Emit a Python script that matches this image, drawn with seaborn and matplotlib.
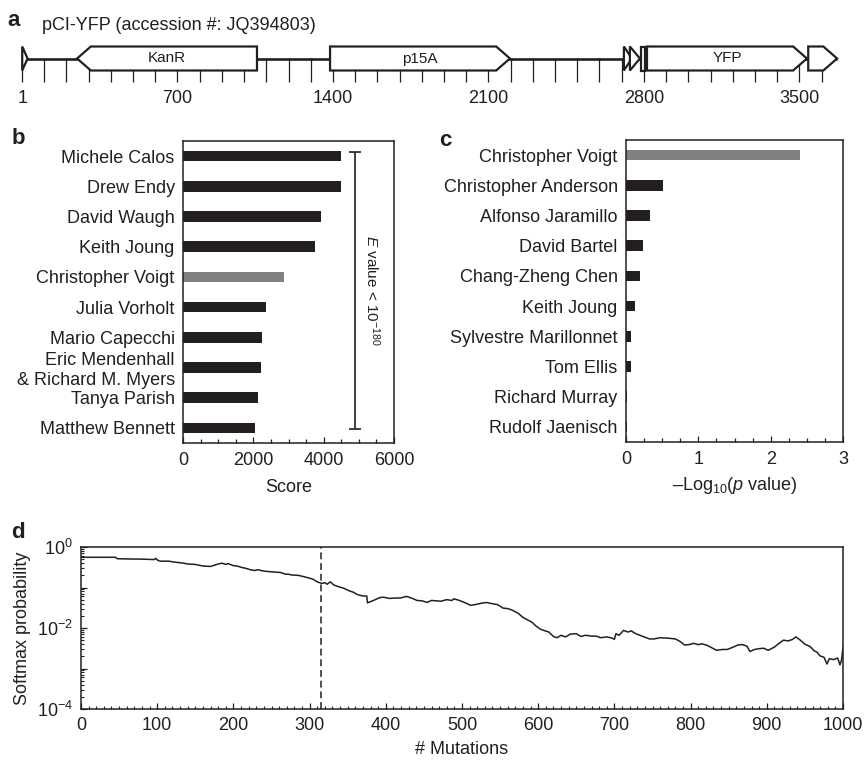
import numpy as np
import pandas as pd
import matplotlib
matplotlib.use('Agg')
import matplotlib.pyplot as plt
import seaborn as sns
from matplotlib.patches import Polygon
from matplotlib.ticker import FixedLocator, MultipleLocator, LogLocator, NullFormatter

# ---- data -------------------------------------------------------------
plasmid_title = 'pCI-YFP (accession #: JQ394803)'
plasmid_length = 3670
feature_names = ['', 'KanR', 'p15A', '', '', '', 'YFP', '']
feature_starts = [1, 248, 1387, 2710, 2737, 2787, 2814, 3540]
feature_ends = [25, 1058, 2197, 2746, 2782, 2805, 3534, 3670]
feature_strands = [1, -1, 1, 1, 1, 0, 1, 1]
map_labels = [1, 700, 1400, 2100, 2800, 3500]
map_minor = list(range(100, 3700, 100))

score_names = ['Michele Calos', 'Drew Endy', 'David Waugh', 'Keith Joung',
               'Christopher Voigt', 'Julia Vorholt', 'Mario Capecchi',
               'Eric Mendenhall\n& Richard M. Myers', 'Tanya Parish',
               'Matthew Bennett']
scores = [4490, 4490, 3920, 3750, 2870, 2360, 2250, 2220, 2130, 2050]

pval_names = ['Christopher Voigt', 'Christopher Anderson', 'Alfonso Jaramillo',
              'David Bartel', 'Chang-Zheng Chen', 'Keith Joung',
              'Sylvestre Marillonnet', 'Tom Ellis', 'Richard Murray',
              'Rudolf Jaenisch']
neg_log_p = [2.41, 0.51, 0.33, 0.23, 0.19, 0.125, 0.07, 0.07, 0.01, 0.01]

highlight = 'Christopher Voigt'

mutations = [0, 45, 48, 60, 80, 96, 98, 100, 104, 115, 126, 135, 140, 150, 160,
             170, 175, 180, 185, 190, 193, 200, 205, 210, 217, 222, 228, 232,
             236, 242, 248, 255, 262, 268, 272, 276, 285, 292, 300, 305, 310,
             316, 320, 323, 327, 332, 338, 345, 353, 358, 362, 366, 370, 375,
             376, 380, 385, 392, 397, 405, 412, 419, 427, 435, 441, 448, 454,
             460, 467, 472, 480, 487, 489, 495, 502, 507, 511, 518, 525, 532,
             537, 546, 550, 554, 560, 566, 574, 580, 586, 592, 597, 603, 609,
             614, 620, 625, 630, 636, 642, 650, 656, 662, 670, 676, 682, 690,
             697, 700, 702, 706, 712, 718, 722, 728, 735, 742, 746, 752, 760,
             770, 780, 786, 792, 798, 804, 810, 815, 822, 828, 834, 842, 848,
             855, 862, 868, 874, 878, 884, 890, 896, 902, 910, 916, 922, 928,
             934, 938, 944, 950, 957, 962, 966, 970, 975, 979, 982, 988, 993,
             996, 998, 1000]
log10_softmax = [-0.254, -0.254, -0.29, -0.295, -0.30, -0.31, -0.28, -0.32,
                 -0.35, -0.35, -0.38, -0.40, -0.42, -0.43, -0.47, -0.48, -0.45,
                 -0.42, -0.40, -0.43, -0.41, -0.46, -0.47, -0.50, -0.53, -0.56,
                 -0.58, -0.56, -0.58, -0.60, -0.61, -0.62, -0.63, -0.67, -0.67,
                 -0.69, -0.70, -0.73, -0.77, -0.80, -0.86, -0.90, -0.88, -0.92,
                 -0.86, -0.94, -0.98, -1.02, -1.09, -1.12, -1.17, -1.19, -1.21,
                 -1.21, -1.38, -1.35, -1.31, -1.25, -1.24, -1.27, -1.26, -1.26,
                 -1.22, -1.27, -1.32, -1.33, -1.37, -1.32, -1.33, -1.34, -1.30,
                 -1.32, -1.28, -1.31, -1.36, -1.40, -1.44, -1.42, -1.39, -1.37,
                 -1.39, -1.42, -1.46, -1.51, -1.52, -1.56, -1.64, -1.74, -1.80,
                 -1.86, -1.95, -2.03, -2.07, -2.10, -2.21, -2.24, -2.18, -2.22,
                 -2.15, -2.14, -2.21, -2.18, -2.20, -2.20, -2.24, -2.22, -2.25,
                 -2.28, -2.14, -2.18, -2.06, -2.10, -2.07, -2.14, -2.19, -2.24,
                 -2.27, -2.27, -2.24, -2.25, -2.27, -2.33, -2.42, -2.41, -2.38,
                 -2.41, -2.39, -2.43, -2.49, -2.55, -2.53, -2.53, -2.48, -2.42,
                 -2.41, -2.45, -2.58, -2.53, -2.51, -2.50, -2.55, -2.47, -2.38,
                 -2.30, -2.32, -2.28, -2.22, -2.30, -2.40, -2.46, -2.56, -2.60,
                 -2.69, -2.72, -2.89, -2.76, -2.78, -2.74, -2.91, -2.80, -2.48]
selected_mutation = 315

# ---- style ------------------------------------------------------------
INK = '#231f20'
GRAY = '#808080'
W, H = 864, 760

sns.set_theme(style='ticks')
plt.rcParams['font.family'] = ['Liberation Sans', 'DejaVu Sans']
plt.rcParams.update({
    'mathtext.fontset': 'custom',
    'mathtext.rm': 'Liberation Sans',
    'mathtext.it': 'Liberation Sans:italic',
    'mathtext.bf': 'Liberation Sans:bold',
    'text.color': INK, 'axes.labelcolor': INK, 'axes.edgecolor': INK,
    'xtick.color': INK, 'ytick.color': INK, 'axes.linewidth': 1.1,
    'font.size': 13,
})

fig = plt.figure(figsize=(W / 100, H / 100), dpi=100)


def px_axes(left, top, right, bottom):
    return fig.add_axes([left / W, 1 - bottom / H, (right - left) / W, (bottom - top) / H])


def panel_letter(x, y, s):
    fig.text(x / W, 1 - y / H, s, fontsize=16, fontweight='bold', ha='center', va='center')


# ---- a: plasmid map ---------------------------------------------------
ax_a = px_axes(0, 0, 864, 82)
px_per_bp = 0.2221
ax_a.set_xlim(-22 / px_per_bp, 842 / px_per_bp)
ax_a.set_ylim(82, 0)
for s in ax_a.spines.values():
    s.set_visible(False)
ax_a.set_axisbelow(True)
ax_a.set_yticks([])
ax_a.xaxis.set_major_locator(FixedLocator(map_labels))
ax_a.xaxis.set_minor_locator(FixedLocator(map_minor))
ax_a.set_xticklabels([str(v) for v in map_labels])
ax_a.tick_params(axis='x', which='both', direction='in', length=17.5, width=0.9,
                 labelsize=13, pad=6)
ax_a.set_facecolor('none')

mid, half = 58.5, 12
ax_a.plot([1, plasmid_length], [mid, mid], color=INK, lw=1.9, zorder=2,
          solid_capstyle='butt')
head = 62
for name, s, e, strand in zip(feature_names, feature_starts, feature_ends, feature_strands):
    h = min(head, e - s)
    top, bot = mid - half, mid + half
    if strand > 0:
        verts = [(s, top), (e - h, top), (e, mid), (e - h, bot), (s, bot)]
    elif strand < 0:
        verts = [(e, top), (s + h, top), (s, mid), (s + h, bot), (e, bot)]
    else:
        verts = [(s, top), (e, top), (e, bot), (s, bot)]
    ax_a.add_patch(Polygon(verts, closed=True, facecolor='white', edgecolor=INK,
                           lw=1.6, joinstyle='miter', zorder=3))
    if name:
        ax_a.text((s + e) / 2, mid, name, ha='center', va='center', fontsize=11, zorder=4)
ax_a.text(20 / px_per_bp, 25, plasmid_title, fontsize=13, va='center', ha='left')
panel_letter(14, 20, 'a')

# ---- b: scores ----------------------------------------------------------
ax_b = px_axes(183, 141, 394, 443)
df_b = pd.DataFrame({'name': score_names, 'score': scores})
sns.barplot(data=df_b, x='score', y='name', hue='name', orient='h',
            palette={n: (GRAY if n == highlight else INK) for n in score_names},
            width=0.35, saturation=1, legend=False, linewidth=0, ax=ax_b)
ax_b.set_xlim(0, 6000)
ax_b.set_ylim(9.5, -0.5)
ax_b.xaxis.set_major_locator(MultipleLocator(2000))
ax_b.xaxis.set_minor_locator(MultipleLocator(500))
ax_b.tick_params(axis='x', which='major', direction='in', length=4, width=0.9, labelsize=13, pad=6.5)
ax_b.tick_params(axis='x', which='minor', direction='in', length=3, width=0.9)
ax_b.tick_params(axis='y', length=0, labelsize=13, pad=6)
ax_b.set_ylabel('')
ax_b.set_xlabel('Score', fontsize=13, labelpad=7)
ax_b.errorbar([4900], [4.45], yerr=[4.6], color=INK, lw=1.2, capsize=4, capthick=1.2)
ax_b.text(5370, 4.45, r'$\mathit{E}$ value < 10$^{-180}$', rotation=270,
          ha='center', va='center', fontsize=11)
panel_letter(18, 139, 'b')

# ---- c: p values --------------------------------------------------------
ax_c = px_axes(626, 140, 843, 442)
df_c = pd.DataFrame({'name': pval_names, 'value': neg_log_p})
sns.barplot(data=df_c, x='value', y='name', hue='name', orient='h',
            palette={n: (GRAY if n == highlight else INK) for n in pval_names},
            width=0.35, saturation=1, legend=False, linewidth=0, ax=ax_c)
ax_c.set_xlim(0, 3)
ax_c.set_ylim(9.5, -0.5)
ax_c.xaxis.set_major_locator(MultipleLocator(1))
ax_c.xaxis.set_minor_locator(MultipleLocator(0.25))
ax_c.tick_params(axis='x', which='major', direction='in', length=4, width=0.9, labelsize=13, pad=6.5)
ax_c.tick_params(axis='x', which='minor', direction='in', length=3, width=0.9)
ax_c.tick_params(axis='y', length=0, labelsize=13, pad=6)
ax_c.set_ylabel('')
ax_c.set_xlabel(r'–Log$_{10}$($\mathit{p}$ value)', fontsize=13, labelpad=5)
panel_letter(445, 140, 'c')

# ---- d: softmax trajectory ---------------------------------------------
ax_d = px_axes(81, 547, 843, 709)
softmax = [10 ** v for v in log10_softmax]
sns.lineplot(x=mutations, y=softmax, ax=ax_d, color=INK, lw=1.1,
             estimator=None, sort=False)
ax_d.axvline(selected_mutation, color=INK, lw=1.1, dashes=(4.5, 2.5))
ax_d.set_yscale('log')
ax_d.set_ylim(1e-4, 1)
ax_d.set_xlim(0, 1000)
ax_d.set_yticks([1e-4, 1e-3, 1e-2, 1e-1, 1])
ax_d.set_yticklabels([r'10$^{-4}$', '', r'10$^{-2}$', '', r'10$^{0}$'])
ax_d.yaxis.set_minor_locator(LogLocator(base=10, subs=np.arange(2, 10), numticks=20))
ax_d.yaxis.set_minor_formatter(NullFormatter())
ax_d.xaxis.set_major_locator(MultipleLocator(100))
ax_d.xaxis.set_minor_locator(MultipleLocator(10))
ax_d.tick_params(which='major', direction='in', length=4, width=0.9, labelsize=13, pad=6)
ax_d.tick_params(which='minor', direction='in', length=2.5, width=0.8)
ax_d.set_xlabel('# Mutations', fontsize=13, labelpad=5)
ax_d.set_ylabel('Softmax probability', fontsize=13, labelpad=4)
panel_letter(18, 532, 'd')

fig.savefig('out.png', dpi=100)
